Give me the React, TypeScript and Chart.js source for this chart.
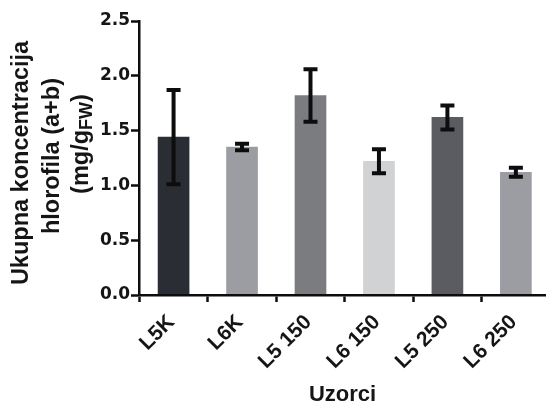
import React, { useEffect, useRef } from "react";
import { Chart, registerables } from "chart.js";

Chart.register(...registerables);

const categories = ["L5K", "L6K", "L5 150", "L6 150", "L5 250", "L6 250"];
const means = [1.44, 1.35, 1.82, 1.22, 1.62, 1.12];
const errors = [0.43, 0.03, 0.24, 0.11, 0.11, 0.04];
const barColors = ["#2b2d34", "#9b9da2", "#7b7c80", "#d1d2d4", "#5b5c61", "#9b9da2"];
const yTicks = [0, 0.5, 1.0, 1.5, 2.0, 2.5];
const yTitleLines = ["Ukupna koncentracija", "hlorofila (a+b)"];
const xTitle = "Uzorci";

const TXT = "#151515";
const SANS = "'Liberation Sans', Arial, sans-serif";

const errorBarPlugin = {
  id: "errorBars",
  afterDatasetsDraw(chart: any) {
    const { ctx } = chart;
    const xs = chart.scales.x;
    const ys = chart.scales.y;
    ctx.save();
    ctx.strokeStyle = "#0d0d0d";
    ctx.lineWidth = 4;
    ctx.lineCap = "butt";
    means.forEach((m, i) => {
      const px = xs.getPixelForValue(i);
      const top = ys.getPixelForValue(m + errors[i]);
      const bot = ys.getPixelForValue(m - errors[i]);
      const cap = 7;
      ctx.beginPath();
      ctx.moveTo(px, top);
      ctx.lineTo(px, bot);
      ctx.moveTo(px - cap, top);
      ctx.lineTo(px + cap, top);
      ctx.moveTo(px - cap, bot);
      ctx.lineTo(px + cap, bot);
      ctx.stroke();
    });
    ctx.restore();
  },
  afterDraw(chart: any) {
    const { ctx, chartArea } = chart;
    const xs = chart.scales.x;
    ctx.save();
    ctx.fillStyle = TXT;
    // x category labels, rotated 45 degrees
    ctx.font = `bold 21px ${SANS}`;
    ctx.textAlign = "right";
    ctx.textBaseline = "alphabetic";
    categories.forEach((c, i) => {
      const px = xs.getPixelForValue(i);
      ctx.save();
      ctx.translate(px + 2, chartArea.bottom + 28);
      ctx.rotate(-Math.PI / 4);
      ctx.fillText(c, 0, 0);
      ctx.restore();
    });

    const font = `bold 23.5px ${SANS}`;
    const subFont = `bold 18px ${SANS}`;
    ctx.textBaseline = "middle";
    ctx.textAlign = "center";
    const centers = [
      { x: 22, y: 163 },
      { x: 53, y: 156 },
    ];
    yTitleLines.forEach((t, i) => {
      ctx.save();
      ctx.translate(centers[i].x, centers[i].y);
      ctx.rotate(-Math.PI / 2);
      ctx.font = font;
      ctx.fillText(t, 0, 0);
      ctx.restore();
    });
    // third line with subscript
    const parts = [
      { t: "(mg/g", f: font, dy: 0 },
      { t: "FW", f: subFont, dy: 5 },
      { t: ")", f: font, dy: 0 },
    ];
    let total = 0;
    parts.forEach((p) => {
      ctx.font = p.f;
      total += ctx.measureText(p.t).width;
    });
    ctx.save();
    ctx.translate(82, 144);
    ctx.rotate(-Math.PI / 2);
    ctx.textAlign = "left";
    let cx = -total / 2;
    parts.forEach((p) => {
      ctx.font = p.f;
      ctx.fillText(p.t, cx, p.dy);
      cx += ctx.measureText(p.t).width;
    });
    ctx.restore();
    // x title
    ctx.font = `bold 22px ${SANS}`;
    ctx.textAlign = "center";
    ctx.textBaseline = "alphabetic";
    ctx.fillText(xTitle, (chartArea.left + chartArea.right) / 2, 401);
    ctx.restore();
  },
};

export default function App() {
  const ref = useRef<HTMLCanvasElement>(null);
  useEffect(() => {
    if (!ref.current) return;
    const chart = new Chart(ref.current, {
      type: "bar",
      data: {
        datasets: [
          {
            data: means.map((v, i) => ({ x: i, y: v })),
            backgroundColor: barColors,
            borderWidth: 0,
            barThickness: 31,
          },
        ],
      },
      options: {
        animation: false,
        responsive: false,
        maintainAspectRatio: false,
        layout: { padding: { top: 21, left: 0, right: 0, bottom: 0 } },
        plugins: {
          legend: { display: false },
          tooltip: { enabled: false },
        },
        scales: {
          x: {
            type: "linear",
            min: -0.505,
            max: 5.44,
            offset: false,
            afterBuildTicks(scale: any) {
              scale.ticks = categories.map((_, i) => ({ value: i }));
            },
            afterFit(scale: any) {
              scale.height = 107;
            },
            grid: {
              drawOnChartArea: false,
              drawTicks: true,
              tickLength: 7,
              tickWidth: 2.5,
              tickColor: "#0d0d0d",
            },
            border: { display: true, color: "#0d0d0d", width: 2.5, z: 1 },
            ticks: {
              display: false,
              autoSkip: false,
            },
          },
          y: {
            min: 0,
            max: 2.5,
            afterBuildTicks(scale: any) {
              scale.ticks = yTicks.map((v) => ({ value: v }));
            },
            afterFit(scale: any) {
              scale.width = 139;
            },
            grid: {
              drawOnChartArea: false,
              drawTicks: true,
              tickLength: 8,
              tickWidth: 2.5,
              tickColor: "#0d0d0d",
            },
            border: { display: true, color: "#0d0d0d", width: 2.5, z: 1 },
            ticks: {
              padding: 1,
              color: TXT,
              font: { family: "'DejaVu Sans', sans-serif", size: 17, weight: "bold" },
              callback: (v: any) => Number(v).toFixed(1),
            },
          },
        },
      },
      plugins: [errorBarPlugin],
    } as any);
    return () => chart.destroy();
  }, []);
  return (
    <div style={{ position: "fixed", left: 0, top: 0, width: 546, height: 402, background: "#fff" }}>
      <canvas ref={ref} width={546} height={402} style={{ width: 546, height: 402, display: "block" }} />
    </div>
  );
}
